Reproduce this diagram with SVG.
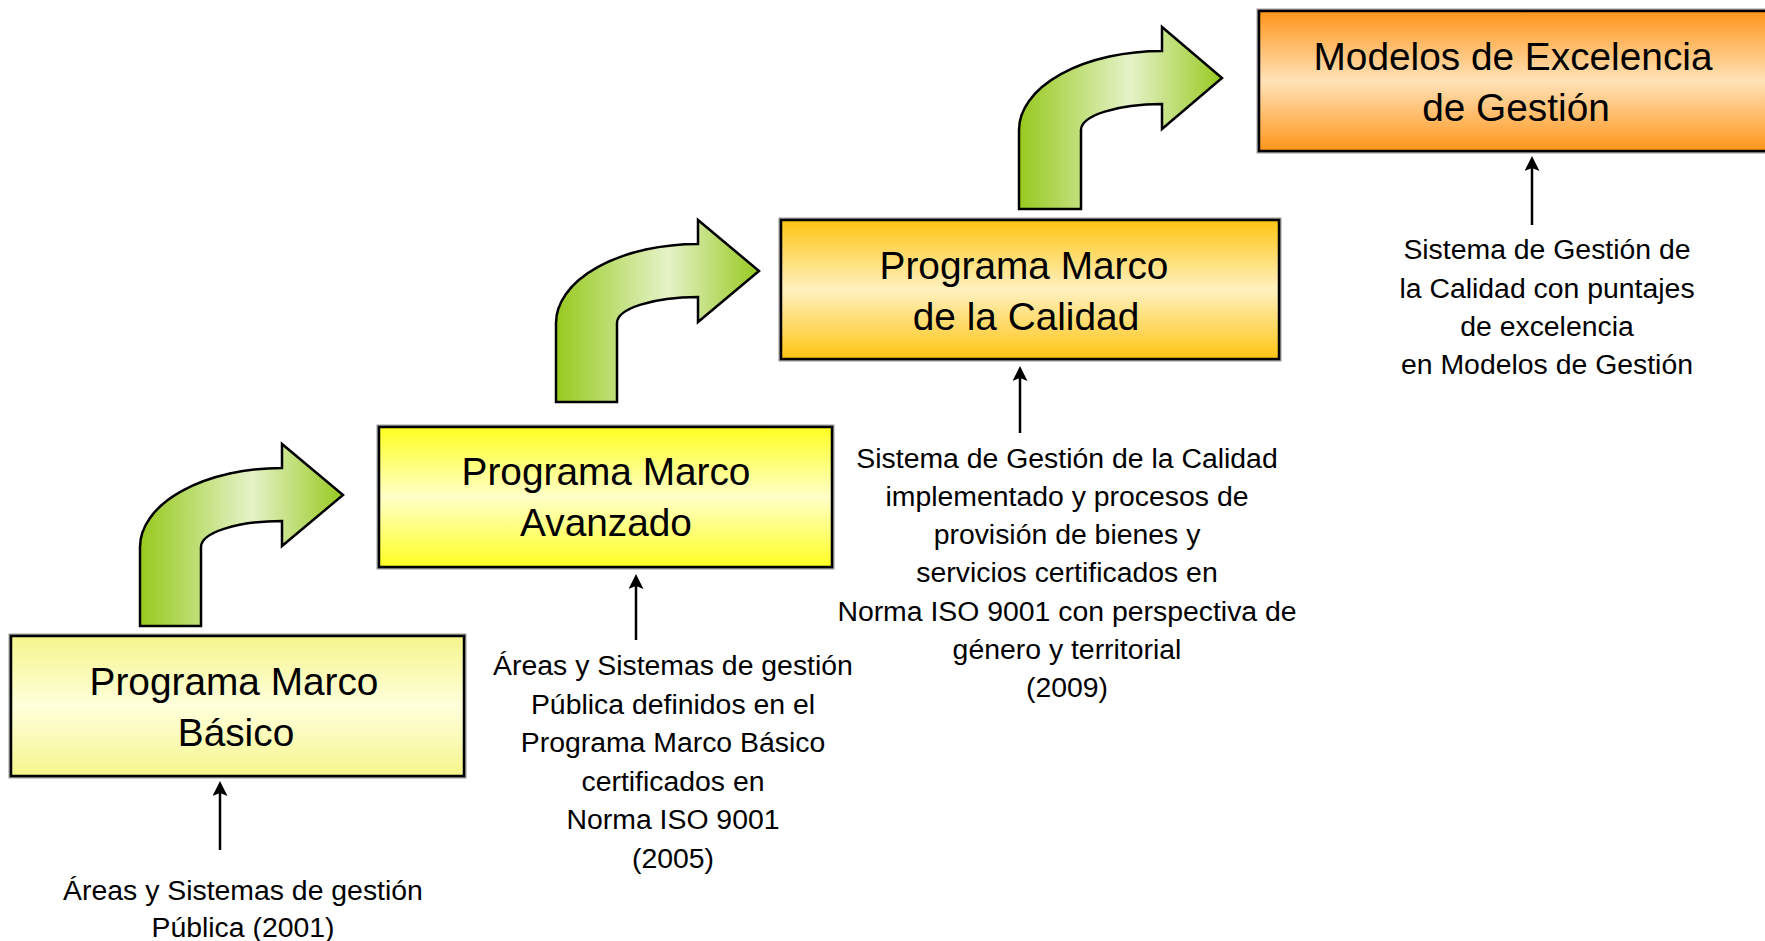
<svg xmlns="http://www.w3.org/2000/svg" width="1765" height="941" viewBox="0 0 1765 941">
<style>
.box{stroke:#000;stroke-width:2.5}
.halo{fill:none;stroke:#9a9a9a;stroke-width:5}
.title{font-family:"Liberation Sans",Arial,sans-serif;font-size:38.8px;fill:#000;text-anchor:middle}
.note{font-family:"Liberation Sans",Arial,sans-serif;font-size:28.4px;fill:#000;text-anchor:middle}
.bend{fill:url(#gGreen);stroke:#000;stroke-width:2.5;stroke-linejoin:miter}
.conn{stroke:#000;stroke-width:2.5;fill:none;marker-end:url(#ah)}
</style>
<defs>
<linearGradient id="gGreen" x1="0" y1="0" x2="1" y2="0">
<stop offset="0" stop-color="#97C91F"/>
<stop offset="0.55" stop-color="#E5F2C8"/>
<stop offset="1" stop-color="#97C91F"/>
</linearGradient>
<linearGradient id="g1" x1="0" y1="0" x2="0" y2="1">
<stop offset="0" stop-color="#F5F58C"/>
<stop offset="0.5" stop-color="#FFFFDC"/>
<stop offset="1" stop-color="#F5F58C"/>
</linearGradient>
<linearGradient id="g2" x1="0" y1="0" x2="0" y2="1">
<stop offset="0" stop-color="#FFFF22"/>
<stop offset="0.5" stop-color="#FFFFC8"/>
<stop offset="1" stop-color="#FFFF22"/>
</linearGradient>
<linearGradient id="g3" x1="0" y1="0" x2="0" y2="1">
<stop offset="0" stop-color="#FFC412"/>
<stop offset="0.5" stop-color="#FFF1C0"/>
<stop offset="1" stop-color="#FFC412"/>
</linearGradient>
<linearGradient id="g4" x1="0" y1="0" x2="0" y2="1">
<stop offset="0" stop-color="#FF951A"/>
<stop offset="0.5" stop-color="#FFE2B8"/>
<stop offset="1" stop-color="#FF951A"/>
</linearGradient>
<marker id="ah" markerWidth="6" markerHeight="6" refX="4" refY="3" orient="auto" markerUnits="strokeWidth">
<path d="M0,0 L6,3 L0,6 L1.2,3 Z" fill="#000"/>
</marker>
</defs>

<g id="node-basico">
<rect class="halo" x="11" y="636" width="453" height="140"/>
<rect class="box" x="11" y="636" width="453" height="140" fill="url(#g1)"/>
<text class="title" x="234" y="695">Programa Marco</text>
<text class="title" x="236" y="746">Básico</text>
</g>

<g id="node-avanzado">
<rect class="halo" x="379" y="427" width="453" height="140"/>
<rect class="box" x="379" y="427" width="453" height="140" fill="url(#g2)"/>
<text class="title" x="606" y="485">Programa Marco</text>
<text class="title" x="606" y="536">Avanzado</text>
</g>

<g id="node-calidad">
<rect class="halo" x="781" y="220" width="498" height="139"/>
<rect class="box" x="781" y="220" width="498" height="139" fill="url(#g3)"/>
<text class="title" x="1024" y="279">Programa Marco</text>
<text class="title" x="1026" y="330">de la Calidad</text>
</g>

<g id="node-excelencia">
<rect class="halo" x="1259" y="11" width="510" height="140"/>
<rect class="box" x="1259" y="11" width="510" height="140" fill="url(#g4)"/>
<text class="title" x="1513" y="70">Modelos de Excelencia</text>
<text class="title" x="1516" y="121">de Gestión</text>
</g>

<g id="bent-arrows">
<path class="bend" d="M140,626 L140,547 A142,79 0 0 1 282,468 L282,444 L343,495 L282,546 L282,521 A81,26 0 0 0 201,547 L201,626 Z"/>
<path class="bend" d="M556,402 L556,323 A142,79 0 0 1 698,244 L698,220 L759,271 L698,322 L698,297 A81,26 0 0 0 617,323 L617,402 Z"/>
<path class="bend" d="M1019,209 L1019,130 A143,79 0 0 1 1162,51 L1162,27 L1222,78 L1162,129 L1162,104 A81,26 0 0 0 1081,130 L1081,209 Z"/>
</g>

<g id="connectors">
<line class="conn" x1="220" y1="850" x2="220" y2="786"/>
<line class="conn" x1="636" y1="640" x2="636" y2="579"/>
<line class="conn" x1="1020" y1="433" x2="1020" y2="371"/>
<line class="conn" x1="1532" y1="225" x2="1532" y2="161"/>
</g>

<g id="note-2001">
<text class="note" x="243" y="899.5">Áreas y Sistemas de gestión</text>
<text class="note" x="243" y="936.5">Pública (2001)</text>
</g>

<g id="note-2005">
<text class="note" x="673" y="675">Áreas y Sistemas de gestión</text>
<text class="note" x="673" y="713.5">Pública definidos en el</text>
<text class="note" x="673" y="752">Programa Marco Básico</text>
<text class="note" x="673" y="790.5">certificados en</text>
<text class="note" x="673" y="829">Norma ISO 9001</text>
<text class="note" x="673" y="867.5">(2005)</text>
</g>

<g id="note-2009">
<text class="note" x="1067" y="468">Sistema de Gestión de la Calidad</text>
<text class="note" x="1067" y="506">implementado y procesos de</text>
<text class="note" x="1067" y="544">provisión de bienes y</text>
<text class="note" x="1067" y="582">servicios certificados en</text>
<text class="note" x="1067" y="620.5">Norma ISO 9001 con perspectiva de</text>
<text class="note" x="1067" y="659">género y territorial</text>
<text class="note" x="1067" y="697">(2009)</text>
</g>

<g id="note-excelencia">
<text class="note" x="1547" y="259">Sistema de Gestión de</text>
<text class="note" x="1547" y="297.5">la Calidad con puntajes</text>
<text class="note" x="1547" y="336">de excelencia</text>
<text class="note" x="1547" y="374">en Modelos de Gestión</text>
</g>
</svg>
